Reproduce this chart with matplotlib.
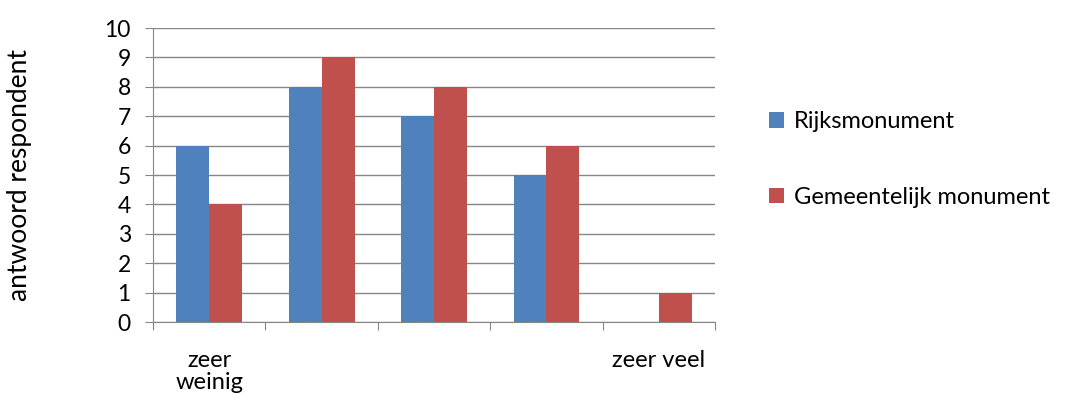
import matplotlib.pyplot as plt
import numpy as np
from matplotlib.patches import Patch

categories = ['zeer\nweinig', '', '', '', 'zeer veel']
rijks = [6, 8, 7, 5, 0]
gemeente = [4, 9, 8, 6, 1]
series_names = ['Rijksmonument', 'Gemeentelijk monument']
colors = ['#4F81BD', '#C0504D']

plt.rcParams['font.family'] = ['Lato', 'DejaVu Sans']
grey = '#868686'

fig = plt.figure(figsize=(10.65, 4.01), dpi=100)
ax = fig.add_axes([0.1437, 0.197, 0.5277, 0.733])

x = np.arange(len(categories))
w = 0.293
ax.bar(x - w / 2, rijks, w, color=colors[0], zorder=3)
ax.bar(x + w / 2, gemeente, w, color=colors[1], zorder=3)

ax.set_xlim(-0.5, len(categories) - 0.5)
ax.set_ylim(0, 10)
ax.set_yticks(range(0, 11))
ax.tick_params(axis='y', labelsize=16.5, length=6, color=grey, pad=10)
ax.yaxis.grid(True, color=grey, linewidth=1, zorder=0)

# category labels sit between the boundary ticks
ax.set_xticks(np.arange(-0.5, len(categories), 1))
ax.set_xticklabels([])
ax.set_xticks(x, minor=True)
ax.set_xticklabels(categories, minor=True, fontsize=17, linespacing=1.05)
ax.tick_params(axis='x', which='minor', length=0, pad=20)
ax.tick_params(axis='x', which='major', length=6, color=grey)

for side in ['top', 'right']:
    ax.spines[side].set_visible(False)
for side in ['left', 'bottom']:
    ax.spines[side].set_color(grey)

ax.set_ylabel('antwoord respondent', fontsize=19, labelpad=52)

handles = [Patch(facecolor=c) for c in colors]
fig.legend(handles, series_names, loc='upper left', bbox_to_anchor=(0.702, 0.775),
           frameon=False, fontsize=17, handlelength=0.65, handleheight=0.65,
           handletextpad=0.4, labelspacing=2.3)

fig.savefig('out.png', dpi=100)
